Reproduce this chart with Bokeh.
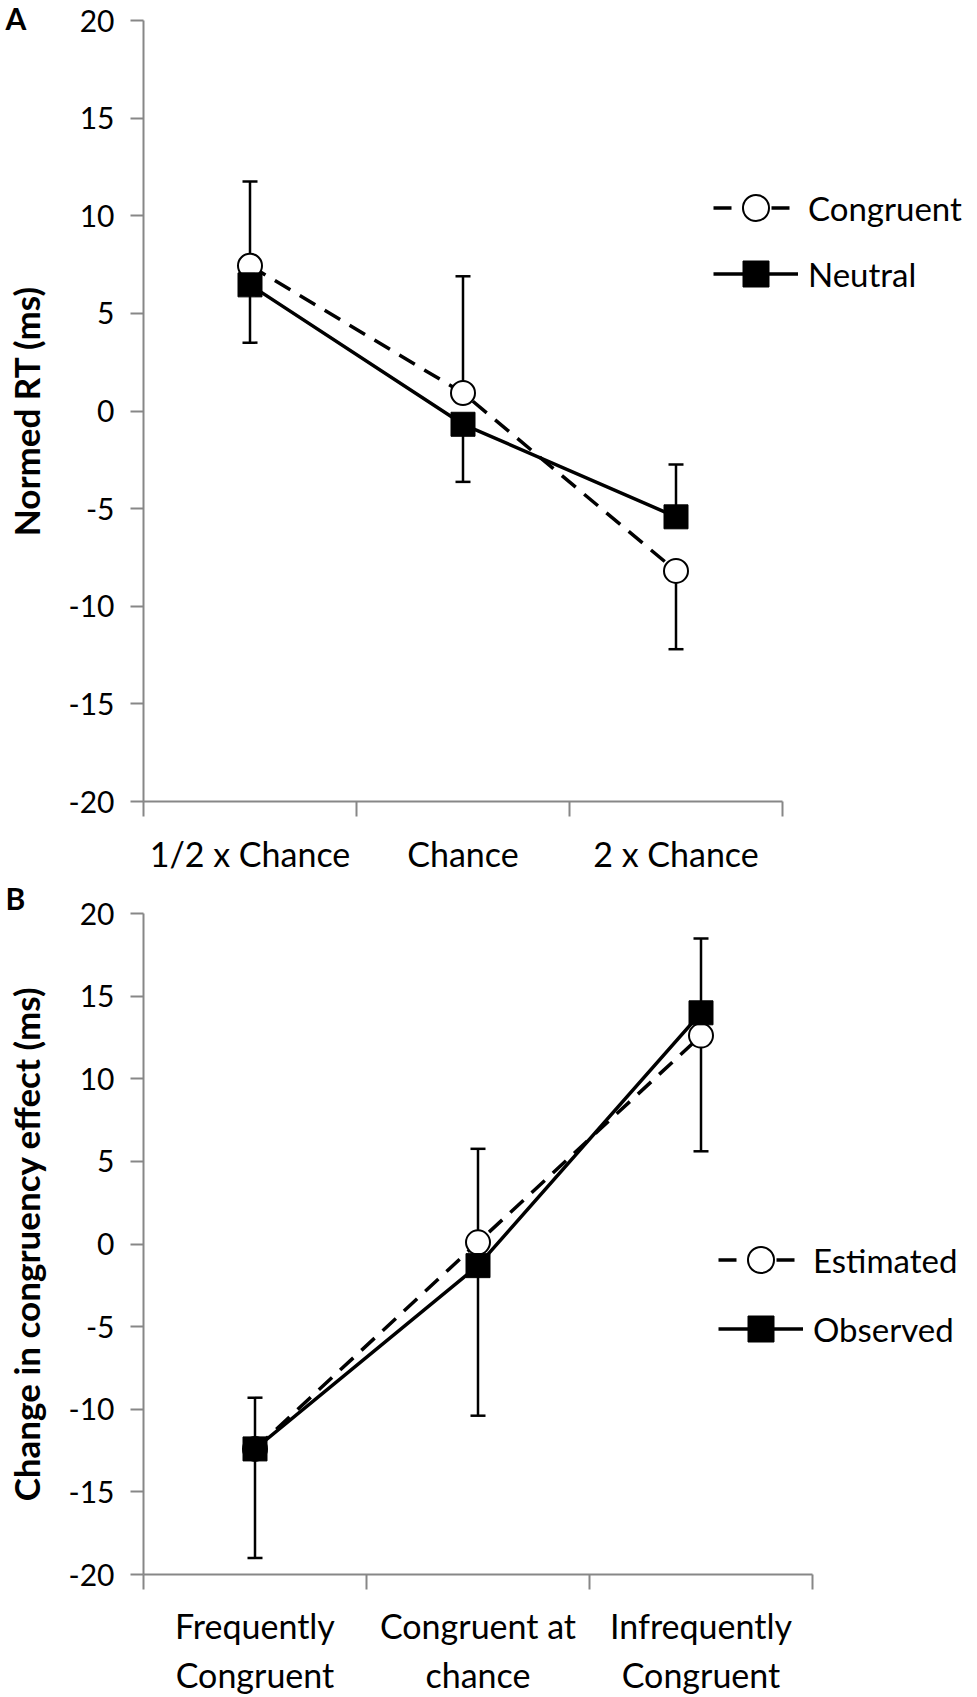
from bokeh.plotting import figure
from bokeh.models import (Range1d, FixedTicker, Legend, LegendItem, Whisker,
                          TeeHead, ColumnDataSource, Label)
from bokeh.layouts import column
from bokeh.embed import file_html
from bokeh.resources import INLINE

# ---------------- data ----------------
y_ticks = [-20, -15, -10, -5, 0, 5, 10, 15, 20]
y_tick_labels = ["-20", "-15", "-10", "-5", "0", "5", "10", "15", "20"]

a_categories = ["1/2 x Chance", "Chance", "2 x Chance"]
a_congruent = [7.44, 0.92, -8.19]
a_neutral = [6.46, -0.68, -5.42]
a_congruent_bar_end = [11.75, 6.9, -12.2]
a_neutral_bar_end = [3.5, -3.63, -2.74]

b_categories = ["Frequently\nCongruent", "Congruent at\nchance", "Infrequently\nCongruent"]
b_estimated = [-12.4, 0.10, 12.61]
b_observed = [-12.4, -1.31, 13.99]
b_estimated_bar_end = [-9.3, 5.76, 5.61]
b_observed_bar_end = [-19.0, -10.39, 18.49]

# ---------------- style / geometry ----------------
FONT = "Lato"
GRAY = "#878787"
W = 969          # figure width (px)
AXIS_X = 143     # screen x of the y axis inside each figure


def panel(categories, s1, s2, e1, e2, names, ytitle, letter,
          height, top_px, bottom_px, cat_px, legend_xy, spacing,
          label_standoff, letter_px):
    n = len(categories)
    px_y = (bottom_px - top_px) / 40.0
    x0 = -AXIS_X / cat_px
    x1 = (W - AXIS_X) / cat_px
    ytop = 20 + top_px / px_y
    ybot = -20 - (height - bottom_px) / px_y
    xs = [i + 0.5 for i in range(n)]

    p = figure(width=W, height=height, title=None,
               x_range=Range1d(x0, x1), y_range=Range1d(ybot, ytop),
               output_backend="svg", toolbar_location=None,
               min_border=0, min_border_left=0, min_border_right=0,
               min_border_top=0, min_border_bottom=0)
    p.outline_line_color = None
    p.xgrid.visible = False
    p.ygrid.visible = False
    p.background_fill_color = "white"
    p.border_fill_color = "white"

    # error bars (one-sided, from the point to the bar end)
    for vals, ends in ((s1, e1), (s2, e2)):
        src = ColumnDataSource(dict(x=xs,
                                    lo=[min(v, e) for v, e in zip(vals, ends)],
                                    hi=[max(v, e) for v, e in zip(vals, ends)]))
        wh = Whisker(source=src, base="x", lower="lo", upper="hi",
                     line_color="black", line_width=2.5, level="underlay",
                     upper_head=TeeHead(size=15, line_width=2.5, line_color="black"),
                     lower_head=TeeHead(size=15, line_width=2.5, line_color="black"))
        p.add_layout(wh)

    l1 = p.line(xs, s1, line_color="black", line_width=3.5, line_dash="18 11")
    m1 = p.scatter(xs, s1, marker="circle", size=24, fill_color="white",
                   line_color="black", line_width=2)
    l2 = p.line(xs, s2, line_color="black", line_width=3.5)
    m2 = p.scatter(xs, s2, marker="square", size=24, fill_color="black",
                   line_color="black", line_width=1)

    # y axis, drawn at x = 0
    ya = p.yaxis[0]
    ya.fixed_location = 0
    ya.bounds = (-20, 20)
    ya.ticker = FixedTicker(ticks=y_ticks, minor_ticks=[])
    ya.major_label_overrides = {t: s for t, s in zip(y_ticks, y_tick_labels)}
    ya.major_tick_out = 13
    ya.major_tick_in = 0
    ya.minor_tick_out = 0
    ya.minor_tick_in = 0
    ya.axis_line_color = GRAY
    ya.axis_line_width = 2
    ya.major_tick_line_color = GRAY
    ya.major_tick_line_width = 2
    ya.major_label_text_font = FONT
    ya.major_label_text_font_size = "30px"
    ya.major_label_text_color = "black"
    ya.major_label_standoff = 16
    ya.axis_label = ytitle
    ya.axis_label_text_font = FONT
    ya.axis_label_text_font_style = "bold"
    ya.axis_label_text_font_size = "35px"
    ya.axis_label_text_color = "black"
    ya.axis_label_standoff = 19

    # x axis at y = -20: labels at category centres, marks at boundaries
    xa = p.xaxis[0]
    xa.fixed_location = -20
    xa.ticker = FixedTicker(ticks=xs, minor_ticks=list(range(n + 1)))
    xa.major_label_overrides = {x: c for x, c in zip(xs, categories)}
    xa.bounds = (0, n)
    xa.major_tick_out = 0
    xa.major_tick_in = 0
    xa.minor_tick_out = 15
    xa.minor_tick_in = 0
    xa.minor_tick_line_color = GRAY
    xa.minor_tick_line_width = 2
    xa.axis_line_color = GRAY
    xa.axis_line_width = 2
    xa.major_label_text_font = FONT
    xa.major_label_text_font_size = "34px"
    xa.major_label_text_color = "black"
    xa.major_label_text_line_height = 1.2
    xa.major_label_standoff = label_standoff

    leg = Legend(items=[LegendItem(label=names[0], renderers=[l1, m1]),
                        LegendItem(label=names[1], renderers=[l2, m2])],
                 location=legend_xy, orientation="vertical",
                 glyph_width=85, glyph_height=65, label_height=65,
                 spacing=spacing, padding=0, margin=0, label_standoff=10,
                 border_line_color=None, background_fill_alpha=0,
                 label_text_font=FONT, label_text_font_size="33px",
                 label_text_color="black")
    p.add_layout(leg)

    lab = Label(x=x0 + 5.0 / cat_px, y=ytop - letter_px / px_y, text=letter,
                text_font=FONT, text_font_style="bold", text_font_size="30px",
                text_baseline="middle", text_align="left", text_color="black")
    p.add_layout(lab)
    return p


pa = panel(a_categories, a_congruent, a_neutral, a_congruent_bar_end, a_neutral_bar_end,
           ["Congruent", "Neutral"], "Normed RT (ms)", "A",
           height=881, top_px=20, bottom_px=801, cat_px=213,
           legend_xy=(713, 575), spacing=1, label_standoff=16, letter_px=17)
pb = panel(b_categories, b_estimated, b_observed, b_estimated_bar_end, b_observed_bar_end,
           ["Estimated", "Observed"], "Change in congruency effect (ms)", "B",
           height=815, top_px=32, bottom_px=693, cat_px=223,
           legend_xy=(718, 335), spacing=4, label_standoff=15, letter_px=16)

layout = column(pa, pb)
open("out.html", "w").write(file_html(layout, INLINE))
